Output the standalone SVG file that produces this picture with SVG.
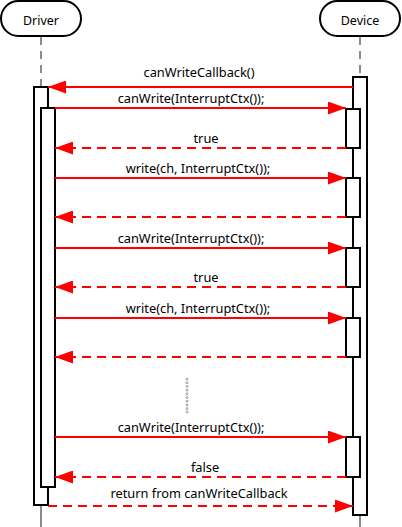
<svg xmlns="http://www.w3.org/2000/svg" width="402" height="527" viewBox="0 0 402 527">
<defs>
<marker id="ah" viewBox="0 0 18 13" refX="18" refY="6.5" markerWidth="18" markerHeight="13" markerUnits="userSpaceOnUse" orient="auto">
<path d="M0,0 L18,6.5 L0,13 Z" fill="#ff0000"/>
</marker>
<style>
text{font-family:"Noto Sans","Open Sans","DejaVu Sans",sans-serif;font-size:12.8px;fill:#000;text-anchor:middle}
.nl{font-size:12.5px}
.pill{fill:#fff;stroke:#000;stroke-width:2}
.life{stroke:#666;stroke-width:1.5;stroke-dasharray:8,6;fill:none}
.lifes{stroke:#666;stroke-width:1.5;fill:none}
.act{fill:#fff;stroke:#000;stroke-width:2}
.msg{stroke:#ff0000;stroke-width:2;fill:none;marker-end:url(#ah)}
.ret{stroke:#ff0000;stroke-width:2;fill:none;stroke-dasharray:9,6;marker-end:url(#ah)}
.dot{fill:none;stroke:#888;stroke-width:0.8}
</style>
</defs>
<g id="lifelines">
<line class="life" x1="41" y1="37" x2="41" y2="87"/>
<line class="lifes" x1="41" y1="506" x2="41" y2="527"/>
<line class="life" x1="360" y1="37" x2="360" y2="77"/>
<line class="lifes" x1="360" y1="516" x2="360" y2="527"/>
</g>
<g id="driver">
<rect class="pill" x="1" y="1" width="80" height="35" rx="17.5"/>
<text class="nl" x="41" y="25">Driver</text>
</g>
<g id="device">
<rect class="pill" x="320" y="1" width="80" height="35" rx="17.5"/>
<text class="nl" x="360" y="25">Device</text>
</g>
<g id="activations">
<rect class="act" x="34" y="87" width="14" height="418"/>
<rect class="act" x="41" y="108" width="14" height="379"/>
<rect class="act" x="353" y="77" width="14" height="438"/>
<rect class="act" x="346" y="109" width="14" height="39"/>
<rect class="act" x="346" y="178" width="14" height="39"/>
<rect class="act" x="346" y="248" width="14" height="39"/>
<rect class="act" x="346" y="318" width="14" height="39"/>
<rect class="act" x="346" y="437" width="14" height="40"/>
</g>
<g id="connectors">
<line class="msg" x1="353" y1="87" x2="48" y2="87"/>
<line class="msg" x1="55" y1="108" x2="346" y2="108"/>
<line class="ret" x1="346" y1="148" x2="55" y2="148"/>
<line class="msg" x1="55" y1="178" x2="346" y2="178"/>
<line class="ret" x1="346" y1="217" x2="55" y2="217"/>
<line class="msg" x1="55" y1="248" x2="346" y2="248"/>
<line class="ret" x1="346" y1="287" x2="55" y2="287"/>
<line class="msg" x1="55" y1="318" x2="346" y2="318"/>
<line class="ret" x1="346" y1="357" x2="55" y2="357"/>
<line class="msg" x1="55" y1="437" x2="346" y2="437"/>
<line class="ret" x1="346" y1="477" x2="55" y2="477"/>
<line class="ret" x1="48" y1="506" x2="353" y2="506"/>
</g>
<g id="labels">
<text x="199" y="77">canWriteCallback()</text>
<text x="191" y="103">canWrite(InterruptCtx());</text>
<text x="206" y="143">true</text>
<text x="198" y="173">write(ch, InterruptCtx());</text>
<text x="191" y="243">canWrite(InterruptCtx());</text>
<text x="206" y="282">true</text>
<text x="198" y="313">write(ch, InterruptCtx());</text>
<text x="191" y="432">canWrite(InterruptCtx());</text>
<text x="205" y="472">false</text>
<text x="199" y="498">return from canWriteCallback</text>
</g>
<g id="ellipsis">
<circle class="dot" cx="187" cy="379" r="1"/>
<circle class="dot" cx="187" cy="382.7" r="1"/>
<circle class="dot" cx="187" cy="386.4" r="1"/>
<circle class="dot" cx="187" cy="390.1" r="1"/>
<circle class="dot" cx="187" cy="393.8" r="1"/>
<circle class="dot" cx="187" cy="397.5" r="1"/>
<circle class="dot" cx="187" cy="401.2" r="1"/>
<circle class="dot" cx="187" cy="404.9" r="1"/>
<circle class="dot" cx="187" cy="408.6" r="1"/>
<circle class="dot" cx="187" cy="412" r="1"/>
</g>
</svg>
